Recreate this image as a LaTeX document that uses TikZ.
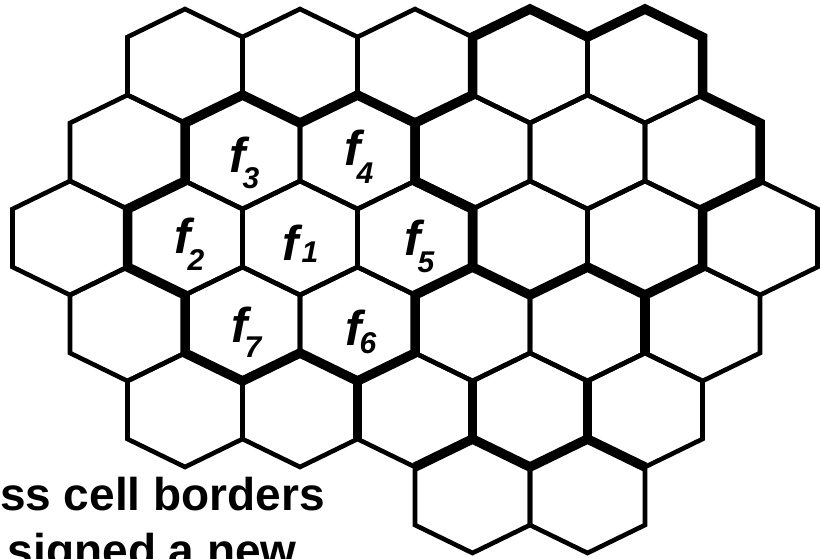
\documentclass[tikz,border=0pt]{standalone}
\usepackage{fontspec}
\setmainfont{Liberation Sans}
\begin{document}
\begin{tikzpicture}[x=1pt,y=-1pt,
  cell/.style={line width=4.6pt, line join=miter},
  border/.style={line width=9.5pt, line join=miter, miter limit=4},
  flab/.style={inner sep=0pt, anchor=base, font=\fontsize{49}{51}\selectfont\bfseries\itshape},
  sublab/.style={inner sep=0pt, anchor=base, font=\fontsize{30}{32}\selectfont\bfseries\itshape},
  caption/.style={inner sep=0pt, anchor=base east, font=\fontsize{46}{50}\selectfont\bfseries}]
\useasboundingbox (0,0) rectangle (820,558);
\clip (0,0) rectangle (820,558);
% hexagonal cells: row / doubled column index
\foreach \r/\X in {1/3,1/5,1/7,1/9,1/11,
                   2/2,2/4,2/6,2/8,2/10,2/12,
                   3/1,3/3,3/5,3/7,3/9,3/11,3/13,
                   4/2,4/4,4/6,4/8,4/10,4/12,
                   5/3,5/5,5/7,5/9,5/11,
                   6/8,6/10}{
  \pgfmathsetmacro\cx{12.5+57.5*\X}
  \pgfmathsetmacro\cy{66+86*(\r-1)}
  \draw[cell] (\cx,\cy-57) -- (\cx+57.5,\cy-29) -- (\cx+57.5,\cy+29) -- (\cx,\cy+57)
    -- (\cx-57.5,\cy+29) -- (\cx-57.5,\cy-29) -- cycle;
}
% cluster of f1
\draw[border] (127.5,209) -- (185,181) -- (185,123) -- (242.5,95) -- (300,123) -- (357.5,95)
  -- (415,123) -- (415,181) -- (472.5,209) -- (472.5,267) -- (415,295) -- (415,353)
  -- (357.5,381) -- (300,353) -- (242.5,381) -- (185,353) -- (185,295) -- (127.5,267) -- cycle;
% upper right cluster
\draw[border] (415,123) -- (472.5,95) -- (472.5,37) -- (530,9) -- (587.5,37) -- (645,9)
  -- (702.5,37) -- (702.5,95) -- (760,123) -- (760,181) -- (702.5,209) -- (702.5,267)
  -- (645,295) -- (587.5,267) -- (530,295) -- (472.5,267) -- (472.5,209) -- (415,181) -- cycle;
% further borders
\draw[border] (645,295) -- (645,353);
\draw[border] (357.5,381) -- (357.5,439);
\draw[border] (472.5,381) -- (472.5,439);
\draw[border] (587.5,381) -- (587.5,439);
\draw[border] (415,467) -- (472.5,439) -- (530,467) -- (587.5,439) -- (645,467);
% labels
\node[flab] (f3) at (238,172) {f};  \node[sublab] (s3) at (251,188) {3};
\node[flab] (f4) at (353,165) {f};  \node[sublab] (s4) at (365,183) {4};
\node[flab] (f2) at (183,253) {f};  \node[sublab] (s2) at (196,270) {2};
\node[flab] (f1) at (291,260) {f};  \node[sublab] (s1) at (310,262) {1};
\node[flab] (f5) at (413,255) {f};  \node[sublab] (s5) at (426,272) {5};
\node[flab] (f6) at (354,345) {f};  \node[sublab] (s6) at (368,353) {6};
\node[flab] (f7) at (240,342) {f};  \node[sublab] (s7) at (253,357) {7};
% caption text (cropped)
\node[caption] (line1) at (325,510) {ss cell borders};
\node[caption] (line2) at (297,566) {signed a new};
\end{tikzpicture}
\end{document}
